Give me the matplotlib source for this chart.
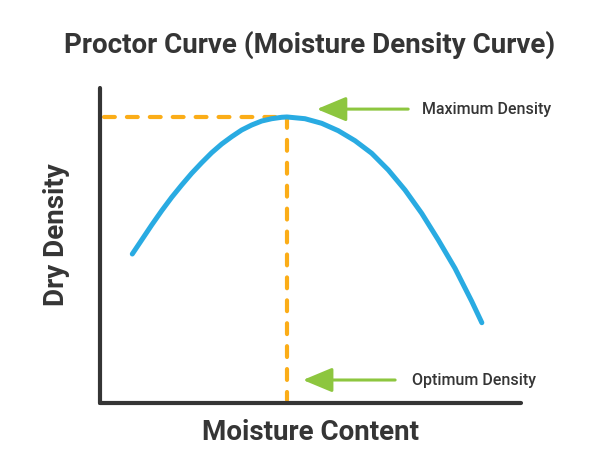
import matplotlib
matplotlib.use("Agg")
import matplotlib.pyplot as plt

# ---- data (arbitrary units) ----
moisture = [0.767, 0.990, 1.228, 1.466, 1.703, 1.941, 2.178, 2.416, 2.653,
            2.891, 3.128, 3.366, 3.603, 3.841, 4.078, 4.316, 4.44,
            4.869, 5.266, 5.660, 6.057, 6.454, 6.848, 7.245, 7.641, 8.036,
            8.432, 8.829, 9.070]
density = [4.730, 5.175, 5.651, 6.105, 6.530, 6.921, 7.292, 7.629, 7.946,
           8.222, 8.454, 8.667, 8.825, 8.952, 9.025, 9.070, 9.08,
           9.025, 8.879, 8.644, 8.327, 7.927, 7.397, 6.762, 6.022, 5.175,
           4.276, 3.230, 2.549]
opt_moisture = 4.44
max_density = 9.08

title = "Proctor Curve (Moisture Density Curve)"
xlabel = "Moisture Content"
ylabel = "Dry Density"
ann_max = "Maximum Density"
ann_opt = "Optimum Density"

BLUE = "#29abe2"
ORANGE = "#fbad18"
GREEN = "#8dc63f"
DARK = "#353535"

plt.rcParams['font.family'] = ['Roboto', 'DejaVu Sans']

W, H = 600, 470
fig = plt.figure(figsize=(6, 4.7), dpi=100)
ax = fig.add_axes([100 / W, 1 - 403 / H, 421 / W, (403 - 88) / H])
ax.set_xlim(0, 10)
ax.set_ylim(0, 10)
ax.set_xticks([])
ax.set_yticks([])
for s in ("top", "right"):
    ax.spines[s].set_visible(False)
for s in ("left", "bottom"):
    ax.spines[s].set_linewidth(3.0)
    ax.spines[s].set_color(DARK)
    ax.spines[s].set_capstyle("round")

# dashed guide lines
ax.plot([0.1, opt_moisture], [max_density, max_density], color=ORANGE, lw=3,
        dashes=(2.6, 2.9), dash_capstyle="round", zorder=2)
ax.plot([opt_moisture, opt_moisture], [max_density, 0.1], color=ORANGE, lw=3,
        dashes=(2.6, 2.9), dash_capstyle="round", zorder=2)

# curve
ax.plot(moisture, density, color=BLUE, lw=3.6, solid_capstyle="round",
        solid_joinstyle="round", zorder=3)

# arrows
arrow_kw = dict(arrowstyle="-|>,head_length=1.8,head_width=0.75",
                mutation_scale=10, lw=2.2, color=GREEN, shrinkA=0, shrinkB=0)
ax.annotate("", xy=(5.15, 9.33), xytext=(7.32, 9.33), arrowprops=arrow_kw)
ax.annotate("", xy=(4.82, 0.73), xytext=(7.01, 0.73), arrowprops=arrow_kw)
ax.text(7.65, 9.33, ann_max, fontsize=11.5, fontweight="medium", color=DARK,
        ha="left", va="center")
ax.text(7.42, 0.73, ann_opt, fontsize=11.5, fontweight="medium", color=DARK,
        ha="left", va="center")

# titles
fig.text(310 / W, 1 - 45 / H, title, fontsize=20, fontweight="bold",
         color=DARK, ha="center", va="center")
fig.text(310 / W, 1 - 433 / H, xlabel, fontsize=20, fontweight="bold",
         color=DARK, ha="center", va="center")
fig.text(57 / W, 1 - 235 / H, ylabel, fontsize=20, fontweight="bold",
         color=DARK, ha="center", va="center", rotation=90)

fig.savefig("out.png", dpi=100)
